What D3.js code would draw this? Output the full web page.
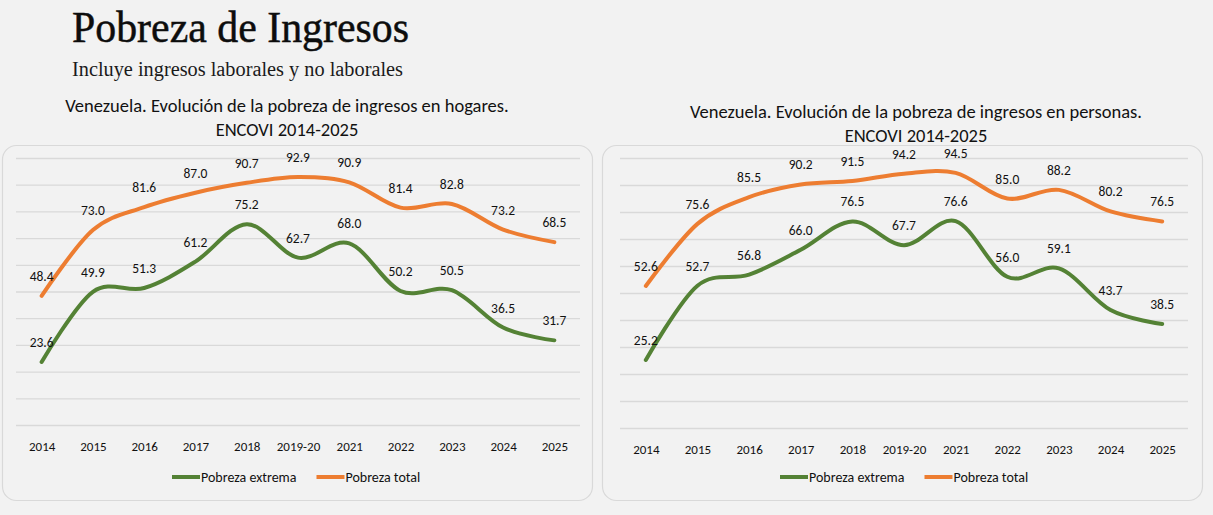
<!DOCTYPE html>
<html>
<head>
<meta charset="utf-8">
<script src="https://cdn.jsdelivr.net/npm/d3@7"></script>
<style>
  html, body { margin: 0; padding: 0; background: #f2f2f2; }
  svg { display: block; }
  .lbl { font-family: Carlito, Calibri, Lato, sans-serif; fill: #111; }
</style>
</head>
<body>
<svg id="chart" width="1213" height="515"></svg>
<script>
const W = 1213, H = 515;

const years = ["2014", "2015", "2016", "2017", "2018", "2019-20", "2021", "2022", "2023", "2024", "2025"];
const seriesNames = ["Pobreza extrema", "Pobreza total"];

// hogares
const hogaresExtrema = [23.6, 49.9, 51.3, 61.2, 75.2, 62.7, 68.0, 50.2, 50.5, 36.5, 31.7];
const hogaresTotal = [48.4, 73.0, 81.6, 87.0, 90.7, 92.9, 90.9, 81.4, 82.8, 73.2, 68.5];

// personas
const personasExtrema = [25.2, 52.7, 56.8, 66.0, 76.5, 67.7, 76.6, 56.0, 59.1, 43.7, 38.5];
const personasTotal = [52.6, 75.6, 85.5, 90.2, 91.5, 94.2, 94.5, 85.0, 88.2, 80.2, 76.5];

const yTicks = d3.range(0, 101, 10);

const GREEN = "#548235";
const ORANGE = "#ed7d31";

const svg = d3.select("#chart");

// ** page header
svg.append("text")
  .attr("x", 72).attr("y", 42)
  .attr("font-family", "'Liberation Serif', 'DejaVu Serif', serif")
  .attr("font-size", 45)
  .attr("textLength", 337)
  .attr("lengthAdjust", "spacingAndGlyphs")
  .attr("fill", "#0d0d0d")
  .attr("stroke", "#0d0d0d")
  .attr("stroke-width", 0.5)
  .text("Pobreza de Ingresos");

svg.append("text")
  .attr("x", 72).attr("y", 76)
  .attr("font-family", "'Liberation Serif', 'DejaVu Serif', serif")
  .attr("font-size", 20)
  .attr("textLength", 331)
  .attr("lengthAdjust", "spacingAndGlyphs")
  .attr("fill", "#1a1a1a")
  .text("Incluye ingresos laborales y no laborales");

const panels = [
  {
    title: ["Venezuela. Evolución de la pobreza de ingresos en hogares.", "ENCOVI 2014-2025"],
    titleX: 287, titleY: 112,
    box: [2, 145, 590, 355],
    xRange: [16, 580], yRange: [425, 158],
    extrema: hogaresExtrema, total: hogaresTotal,
    legendX: 172
  },
  {
    title: ["Venezuela. Evolución de la pobreza de ingresos en personas.", "ENCOVI 2014-2025"],
    titleX: 916, titleY: 118,
    box: [602, 145, 600, 355],
    xRange: [620, 1188], yRange: [428, 158],
    extrema: personasExtrema, total: personasTotal,
    legendX: 780
  }
];

const drawPanel = (p) => {
  const g = svg.append("g");

  g.append("text")
    .attr("class", "lbl")
    .attr("x", p.titleX).attr("y", p.titleY)
    .attr("text-anchor", "middle")
    .attr("font-size", 18.5)
    .text(p.title[0]);
  g.append("text")
    .attr("class", "lbl")
    .attr("x", p.titleX).attr("y", p.titleY + 24)
    .attr("text-anchor", "middle")
    .attr("font-size", 18.5)
    .text(p.title[1]);

  g.append("rect")
    .attr("x", p.box[0] + 0.5).attr("y", p.box[1] + 0.5)
    .attr("width", p.box[2]).attr("height", p.box[3])
    .attr("rx", 14)
    .attr("fill", "#f2f2f2")
    .attr("stroke", "#d9d9d9")
    .attr("stroke-width", 1.2);

  const x = d3.scalePoint().domain(years).range(p.xRange).padding(0.5);
  const y = d3.scaleLinear().domain([0, 100]).range(p.yRange);

  // gridlines
  g.append("g")
    .attr("transform", `translate(${p.xRange[0]},0)`)
    .call(d3.axisLeft(y).tickValues(yTicks).tickSize(-(p.xRange[1] - p.xRange[0])).tickFormat(""))
    .call((s) => s.select(".domain").remove())
    .call((s) => s.selectAll(".tick line").attr("stroke", "#d9d9d9").attr("stroke-width", 1.3));

  // category axis
  g.append("g")
    .attr("transform", `translate(0,${p.yRange[0] + 21})`)
    .call(d3.axisBottom(x).tickSize(0).tickPadding(0))
    .call((s) => s.select(".domain").remove())
    .call((s) => s.selectAll(".tick text")
      .attr("class", "lbl")
      .attr("font-size", 13)
      .attr("dy", "0.35em")
      .attr("fill", "#111"));

  const line = d3.line()
    .x((d, i) => x(years[i]))
    .y((d) => y(d))
    .curve(d3.curveCatmullRom.alpha(0));

  const series = [
    { values: p.extrema, color: GREEN },
    { values: p.total, color: ORANGE }
  ];

  series.forEach((s) => {
    g.append("path")
      .datum(s.values)
      .attr("fill", "none")
      .attr("stroke", s.color)
      .attr("stroke-width", 4)
      .attr("stroke-linecap", "round")
      .attr("d", line);
  });

  series.forEach((s) => {
    g.append("g")
      .selectAll("text")
      .data(s.values)
      .join("text")
      .attr("class", "lbl")
      .attr("x", (d, i) => x(years[i]))
      .attr("y", (d) => y(d) - 15)
      .attr("text-anchor", "middle")
      .attr("font-size", 13.5)
      .text((d) => d.toFixed(1));
  });

  // legend
  const lg = g.append("g").attr("transform", `translate(${p.legendX},477)`);
  const items = [
    { name: seriesNames[0], color: GREEN },
    { name: seriesNames[1], color: ORANGE }
  ];
  let offset = 0;
  items.forEach((it) => {
    lg.append("line")
      .attr("x1", offset).attr("x2", offset + 28)
      .attr("y1", 0).attr("y2", 0)
      .attr("stroke", it.color).attr("stroke-width", 4);
    const t = lg.append("text")
      .attr("class", "lbl")
      .attr("x", offset + 29).attr("y", 0)
      .attr("dy", "0.35em")
      .attr("font-size", 14)
      .text(it.name);
    offset += 29 + t.node().getComputedTextLength() + 20;
  });
};

panels.forEach(drawPanel);
</script>
</body>
</html>
